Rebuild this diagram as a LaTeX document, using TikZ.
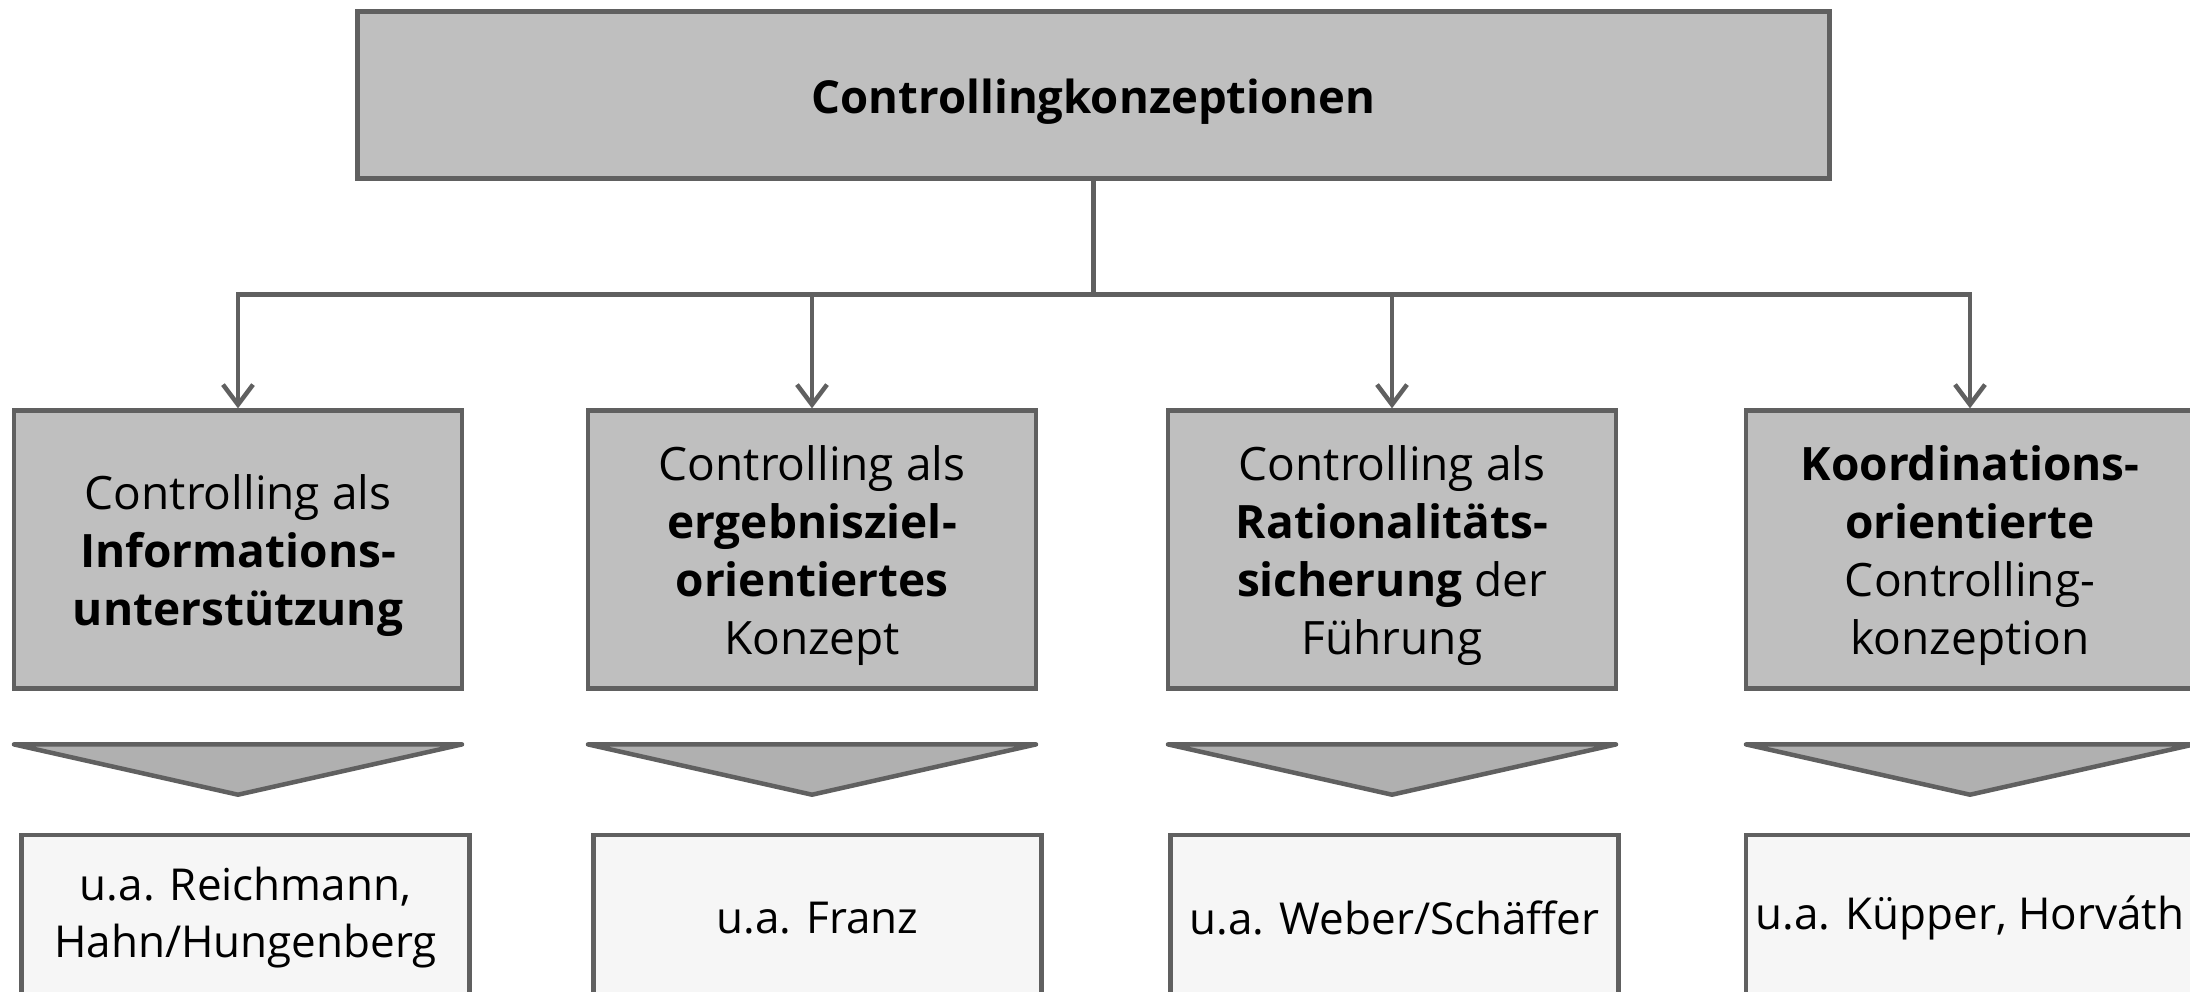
\documentclass[tikz,border=0pt]{standalone}
\usepackage{fontspec}
\setmainfont{Open Sans}
\usetikzlibrary{arrows.meta}
\definecolor{edge}{HTML}{606060}
\definecolor{boxfill}{HTML}{BFBFBF}
\definecolor{funnelfill}{HTML}{B0B0B0}
\definecolor{srcfill}{HTML}{F6F6F6}
% taller first line, so the block of lines sits a little lower in its box
\newcommand\liftline{\rule{0pt}{46pt}}

\begin{document}
\begin{tikzpicture}[x=1pt,y=-1pt,
  every node/.style={inner sep=0pt, align=center, font=\fontsize{44}{57}\selectfont},
  headbox/.style={draw=edge, fill=boxfill, line width=4.5pt, minimum width=1472pt, minimum height=167pt,
    font=\fontsize{45.5}{57}\selectfont, text height=48pt, text depth=11pt},
  conceptbox/.style={draw=edge, fill=boxfill, line width=4.5pt, minimum width=448pt, minimum height=278pt,
    font=\fontsize{46}{58}\selectfont},
  sourcebox/.style={draw=edge, fill=srcfill, line width=4.5pt, minimum width=448pt, minimum height=165pt},
  link/.style={draw=edge, line width=4.5pt},
  branch/.style={link, -{Straight Barb[length=20pt,width=30pt,line width=4.5pt]}},
  funnel/.style={draw=edge, fill=funnelfill, line width=4.5pt, line join=round},
]
\useasboundingbox (0,0) rectangle (2190,992);
\clip (0,0) rectangle (2190,992);

% title
\node[headbox] (top) at (1093.6,95) {\textbf{Controllingkonzeptionen}};

% four conceptions
\node[conceptbox] (r1) at (238,549.6) {\liftline Controlling als\\ \textbf{Informations-}\\ \textbf{unterstützung}};
\node[conceptbox] (r2) at (812,549.6) {\liftline Controlling als\\ \textbf{ergebnisziel-}\\ \textbf{orientiertes}\\ Konzept};
\node[conceptbox] (r3) at (1392,549.6) {\liftline Controlling als\\ \textbf{Rationalitäts-}\\ \textbf{sicherung} der\\ Führung};
\node[conceptbox] (r4) at (1970,549.6) {\liftline\textbf{Koordinations-}\\ \textbf{orientierte}\\ Controlling-\\ konzeption};

% tree connectors
\coordinate (bus) at (1093.6,294.7);
\draw[link] (top.south) -- (bus);
\draw[branch] (bus) -| (r1.north);
\draw[branch] (bus) -| (r2.north);
\draw[branch] (bus) -| (r3.north);
\draw[branch] (bus) -| (r4.north);

% funnels
\foreach \c in {238,812,1392,1970}
  \draw[funnel] (\c-224,744.4) -- (\c+224,744.4) -- (\c,794.7) -- cycle;

% authors
\node[sourcebox] (s1) at (245.5,917.6) {u.a. Reichmann,\\ Hahn/Hungenberg};
\node[sourcebox] (s2) at (817.5,917.6) {u.a. Franz};
\node[sourcebox] (s3) at (1394.5,917.6) {u.a. Weber/Schäffer};
\node[sourcebox] (s4) at (1970,917.6) {u.a. Küpper, Horváth};
\end{tikzpicture}
\end{document}
